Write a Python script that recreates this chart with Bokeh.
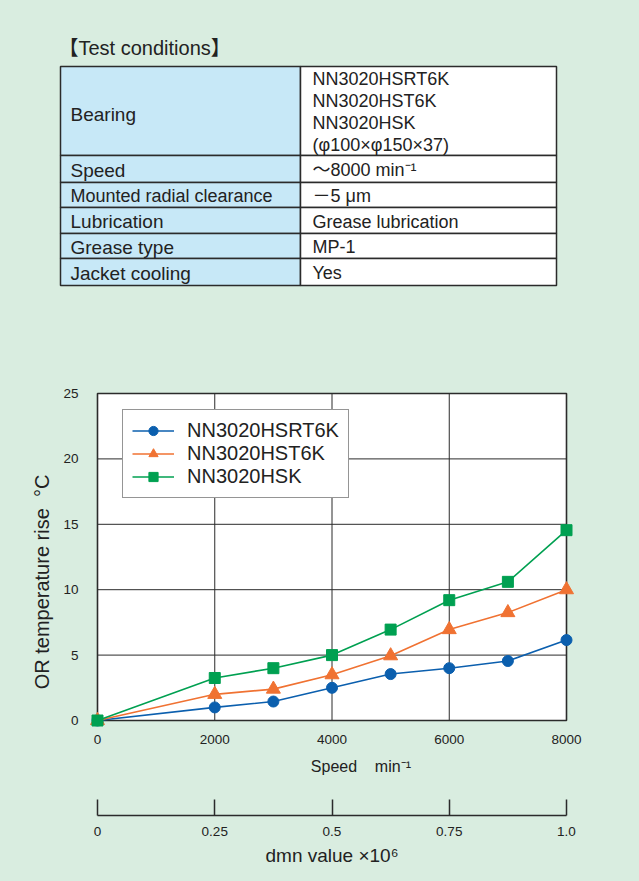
from bokeh.plotting import figure
from bokeh.models import Range1d, FixedTicker
from bokeh.layouts import column
from bokeh.embed import file_html
from bokeh.resources import INLINE
from bokeh.core.properties import value

# ---------------- data ----------------
speed = [0, 2000, 3000, 4000, 5000, 6000, 7000, 8000]
hsrt6k = [0.0, 1.0, 1.45, 2.5, 3.55, 4.0, 4.55, 6.15]
hst6k = [0.0, 2.0, 2.4, 3.5, 4.95, 6.95, 8.25, 10.0]
hsk = [0.0, 3.25, 4.0, 5.0, 6.95, 9.2, 10.6, 14.55]
series_names = ["NN3020HSRT6K", "NN3020HST6K", "NN3020HSK"]
x_ticks = [0, 2000, 4000, 6000, 8000]
y_ticks = [0, 5, 10, 15, 20, 25]
dmn_ticks = [0, 0.25, 0.5, 0.75, 1.0]
dmn_labels = ["0", "0.25", "0.5", "0.75", "1.0"]

cond_items = ["Bearing", "Speed", "Mounted radial clearance", "Lubrication",
              "Grease type", "Jacket cooling"]
cond_values = [["NN3020HSRT6K", "NN3020HST6K", "NN3020HSK", "(φ100×φ150×37)"],
               ["～8000 min⁻¹"], ["－5 μm"], ["Grease lubrication"], ["MP-1"], ["Yes"]]

BG = "#d9ede0"
CELL = "#c7e8f7"
LINE = "#2b2b2b"
TXT = "#222222"
FONT = "Liberation Sans"
TFONT = "'Liberation Sans', 'Noto Sans CJK JP'"
BLUE = "#0b5fae"
ORANGE = "#f07232"
GREEN = "#00a051"
NB = "\u00a0"

W = 639


def no_align(fig):
    try:
        fig.frame_align = False
    except Exception:
        pass


# ---------------- table figure ----------------
TH = 300
t = figure(width=W, height=TH, x_range=Range1d(0, W), y_range=Range1d(TH, 0),
           toolbar_location=None, output_backend="svg", min_border=0,
           x_axis_type=None, y_axis_type=None)
no_align(t)
t.grid.visible = False
t.outline_line_color = None
t.background_fill_color = BG
t.border_fill_color = BG

row_edges = [66, 155, 182, 207, 233, 258, 285]
left_x0, mid_x, right_x1 = 60, 300, 556
tops = row_edges[:-1]
bottoms = row_edges[1:]
t.quad(left=[left_x0] * 6, right=[mid_x] * 6, top=tops, bottom=bottoms,
       fill_color=CELL, line_color=LINE, line_width=1.5)
t.quad(left=[mid_x] * 6, right=[right_x1] * 6, top=tops, bottom=bottoms,
       fill_color="white", line_color=LINE, line_width=1.5)

t.text(x=[58], y=[47], text=["【Test conditions】"], text_font=value(TFONT),
       text_font_size="20px", text_color=TXT, text_baseline="middle")

for i, item in enumerate(cond_items):
    cy = (tops[i] + bottoms[i]) / 2 + 1
    fs = "18px" if len(item) > 20 else "19px"
    t.text(x=[70], y=[cy + (2 if i == 0 else 0)], text=[item], text_font=value(TFONT),
           text_font_size=fs, text_color=TXT, text_baseline="middle")
    vals = cond_values[i]
    ys = [cy] if len(vals) == 1 else [78, 100, 122, 144]
    t.text(x=[312] * len(vals), y=ys, text=vals, text_font=value(TFONT),
           text_font_size="18px", text_color=TXT, text_baseline="middle")

# ---------------- chart figure ----------------
# plot box: page x 97..566, y 393..720 ; frame padded so markers at edges are not cut
PADX, PADY = 10, 8
PX_PER_X = 469 / (x_ticks[-1] - x_ticks[0])
PX_PER_Y = 327 / (y_ticks[-1] - y_ticks[0])
PH = 498
p = figure(width=W, height=PH,
           x_range=Range1d(x_ticks[0] - PADX / PX_PER_X, x_ticks[-1] + PADX / PX_PER_X),
           y_range=Range1d(y_ticks[0] - PADY / PX_PER_Y, y_ticks[-1] + PADY / PX_PER_Y),
           toolbar_location=None, output_backend="svg",
           min_border_left=87, min_border_right=63, min_border_top=85, min_border_bottom=70)
no_align(p)
p.background_fill_color = BG
p.border_fill_color = BG
p.outline_line_color = None
p.grid.visible = False

# white plot area, grid, border
p.quad(left=[x_ticks[0]], right=[x_ticks[-1]], bottom=[y_ticks[0]], top=[y_ticks[-1]],
       fill_color="white", line_color=None)
inner_x = x_ticks[1:-1]
inner_y = y_ticks[1:-1]
p.segment(x0=inner_x, y0=[y_ticks[0]] * len(inner_x), x1=inner_x, y1=[y_ticks[-1]] * len(inner_x),
          line_color=LINE, line_width=1)
p.segment(x0=[x_ticks[0]] * len(inner_y), y0=inner_y, x1=[x_ticks[-1]] * len(inner_y), y1=inner_y,
          line_color=LINE, line_width=1)
p.quad(left=[x_ticks[0]], right=[x_ticks[-1]], bottom=[y_ticks[0]], top=[y_ticks[-1]],
       fill_color=None, line_color=LINE, line_width=1.6)

p.xaxis.ticker = FixedTicker(ticks=x_ticks)
p.yaxis.ticker = FixedTicker(ticks=y_ticks)
for ax in (p.xaxis, p.yaxis):
    ax.axis_line_color = None
    ax.major_tick_line_color = None
    ax.minor_tick_line_color = None
    ax.major_label_text_font = FONT
    ax.major_label_text_font_size = "13.5px"
    ax.major_label_text_color = TXT
    ax.axis_label_text_font = FONT
    ax.axis_label_text_font_style = "normal"
    ax.axis_label_text_color = TXT
p.xaxis.major_label_standoff = 0
p.yaxis.major_label_standoff = 3
p.yaxis.axis_label = "OR temperature rise" + NB * 2 + "°C" + NB * 9
p.yaxis.axis_label_text_font_size = "20px"
p.yaxis.axis_label_standoff = 7
p.xaxis.axis_label = NB * 13 + "Speed" + NB * 4 + "min⁻¹"
p.xaxis.axis_label_text_font_size = "16px"
p.xaxis.axis_label_standoff = 11

series = [(hsrt6k, BLUE, "circle", 11), (hst6k, ORANGE, "triangle", 14), (hsk, GREEN, "square", 11)]
for (vals, col, mk, sz), name in zip(series, series_names):
    p.line(speed, vals, line_color=col, line_width=1.6, legend_label=name)
    p.scatter(speed, vals, marker=mk, size=sz, fill_color=col, line_color=col, legend_label=name)

lg = p.legend[0]
lg.location = (35, 230)
lg.padding = 9
lg.spacing = 0
lg.margin = 0
lg.glyph_width = 42
lg.glyph_height = 23
lg.label_height = 23
lg.label_standoff = 13
lg.label_text_font = FONT
lg.label_text_font_size = "20px"
lg.label_text_color = TXT
lg.border_line_color = LINE
lg.border_line_width = 1.5
lg.background_fill_color = "white"
lg.background_fill_alpha = 1

# ---------------- dmn axis figure ----------------
DH = 83
d = figure(width=W, height=DH, x_range=Range1d(dmn_ticks[0], dmn_ticks[-1]), y_range=Range1d(0, 1),
           toolbar_location=None, output_backend="svg", y_axis_type=None,
           min_border_left=97, min_border_right=73, min_border_top=1, min_border_bottom=66)
no_align(d)
d.grid.visible = False
d.outline_line_color = None
d.background_fill_color = BG
d.border_fill_color = BG
d.xaxis.ticker = FixedTicker(ticks=dmn_ticks)
d.xaxis.major_label_overrides = {t_: l_ for t_, l_ in zip(dmn_ticks, dmn_labels)}
d.xaxis.major_tick_in = 16
d.xaxis.major_tick_out = 0
d.xaxis.minor_tick_line_color = None
d.xaxis.axis_line_color = LINE
d.xaxis.axis_line_width = 1.5
d.xaxis.major_tick_line_color = LINE
d.xaxis.major_tick_line_width = 1.5
d.xaxis.major_label_standoff = 11
d.xaxis.major_label_text_font = FONT
d.xaxis.major_label_text_font_size = "13.5px"
d.xaxis.major_label_text_color = TXT
d.xaxis.axis_label = "dmn value ×10⁶"
d.xaxis.axis_label_text_font = FONT
d.xaxis.axis_label_text_font_style = "normal"
d.xaxis.axis_label_text_font_size = "19px"
d.xaxis.axis_label_text_color = TXT
d.xaxis.axis_label_standoff = 6

layout = column(t, p, d, spacing=0)
html = file_html(layout, INLINE)
html = html.replace("<head>", "<head><style>body{background:%s;}</style>" % BG, 1)
open("out.html", "w").write(html)
